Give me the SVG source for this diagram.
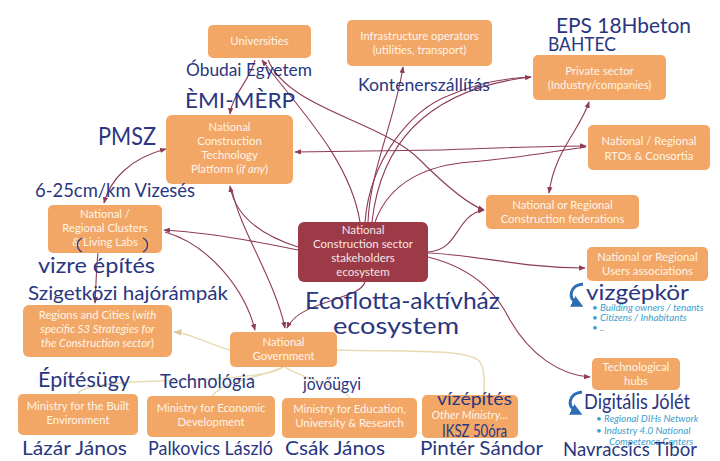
<svg xmlns="http://www.w3.org/2000/svg" width="720" height="461" viewBox="0 0 720 461">
<defs>
<style>
.box{fill:#F2A766;}
.ctr{fill:#9C3B47;}
.t{font-family:Lato,"Open Sans",sans-serif;font-size:11.3px;fill:#FFF4E8;text-anchor:middle;}
.tc{font-family:Lato,"Open Sans",sans-serif;font-size:11.5px;fill:#F7E4E6;text-anchor:middle;}
.it{font-style:italic;}
.c{fill:none;stroke:#8E3B55;stroke-width:1.1;}
.b{fill:none;stroke:#E8DAB2;stroke-width:1.4;}
.hw{font-family:Lato,"Open Sans",sans-serif;font-weight:400;fill:#2A3680;}
.li{font-family:Lato,"Open Sans",sans-serif;font-size:9.8px;font-style:italic;fill:#3AA0CC;}
.blue{fill:none;stroke:#2E6DB4;stroke-width:3;}
</style>
<marker id="a" viewBox="0 0 10 10" refX="9" refY="5" markerWidth="6" markerHeight="6" orient="auto-start-reverse"><path d="M0,1 L10,5 L0,9 z" fill="#8E3B55"/></marker>
<marker id="ab" viewBox="0 0 10 10" refX="9" refY="5" markerWidth="6" markerHeight="6" orient="auto"><path d="M0,1 L10,5 L0,9 z" fill="#E0C89A"/></marker>
<marker id="abl" viewBox="0 0 10 10" refX="5" refY="5" markerWidth="4" markerHeight="4" orient="auto"><path d="M0,0 L10,5 L0,10 z" fill="#2E6DB4"/></marker>
</defs>
<rect width="720" height="461" fill="#FFFFFF"/>

<g id="connectors">
<path class="b" d="M230 350 C210 345 190 333 174 332" marker-end="url(#ab)"/>
<path class="b" d="M283 367 C270 378 200 380 130 382 C100 384 80 388 78 394"/>
<path class="b" d="M283 367 C260 378 225 380 212 396"/>
<path class="b" d="M285 367 C300 378 340 385 350 398"/>
<path class="b" d="M337 350 C400 352 470 348 480 362 C486 372 484 385 484 395"/>
<path class="c" d="M360 222 C350 160 300 110 262 60" marker-end="url(#a)"/>
<path class="c" d="M255 60 C250 80 232 95 230 114" marker-end="url(#a)"/>
<path class="c" d="M268 60 C290 110 380 120 420 160 C450 190 470 205 484 210" marker-end="url(#a)"/>
<path class="c" d="M368 222 C370 170 395 120 403 67" marker-end="url(#a)"/>
<path class="c" d="M372 222 C380 150 420 90 531 77" marker-end="url(#a)"/>
<path class="c" d="M365 222 C370 160 410 110 450 95 C480 82 505 78 531 77"/>
<path class="c" d="M375 222 C390 180 430 165 470 162 C520 158 560 150 586 147"/>
<path class="c" d="M295 152 L440 150 C500 148 540 146 586 146" marker-start="url(#a)" marker-end="url(#a)"/>
<path class="c" d="M589 102 C580 130 555 150 549 193" marker-start="url(#a)" marker-end="url(#a)"/>
<path class="c" d="M428 252 C460 250 455 215 484 210" marker-end="url(#a)"/>
<path class="c" d="M428 253 C480 255 520 268 585 268" marker-end="url(#a)"/>
<path class="c" d="M428 257 C480 270 500 300 510 320 C530 355 560 375 590 377" marker-end="url(#a)"/>
<path class="c" d="M298 250 C250 240 200 232 164 230" marker-end="url(#a)"/>
<path class="c" d="M166 149 C130 158 110 180 104 203" marker-start="url(#a)" marker-end="url(#a)"/>
<path class="c" d="M298 247 C260 235 235 215 230 186" marker-end="url(#a)"/>
<path class="c" d="M165 232 C210 245 245 290 255 330" marker-end="url(#a)"/>
<path class="c" d="M232 190 C240 230 275 280 285 328" marker-end="url(#a)"/>
<path class="c" d="M365 282 C360 300 300 300 287 328" marker-end="url(#a)"/>
<path class="c" d="M98 253 C96 270 96 290 95 303" marker-end="url(#a)"/>
</g>

<g id="universities"><rect class="box" x="208" y="25" width="103" height="33" rx="5"/><text class="t" x="259.5" y="45">Universities</text></g>
<g id="infrastructure"><rect class="box" x="347" y="20" width="145" height="46" rx="5"/><text class="t" x="419.5" y="40">Infrastructure operators</text><text class="t" x="419.5" y="54">(utilities, transport)</text></g>
<g id="private"><rect class="box" x="533" y="55" width="133" height="45" rx="5"/><text class="t" x="599.5" y="75">Private sector</text><text class="t" x="599.5" y="89">(Industry/companies)</text></g>
<g id="rtos"><rect class="box" x="588" y="125" width="122" height="45" rx="5"/><text class="t" x="649" y="145">National / Regional</text><text class="t" x="649" y="160">RTOs &amp; Consortia</text></g>
<g id="platform"><rect class="box" x="166" y="115" width="127" height="69" rx="6"/><text class="t" x="229.5" y="131">National</text><text class="t" x="229.5" y="145">Construction</text><text class="t" x="229.5" y="159">Technology</text><text class="t" x="229.5" y="173">Platform (<tspan class="it">if any</tspan>)</text></g>
<g id="clusters"><rect class="box" x="48" y="205" width="114" height="48" rx="5"/><text class="t" x="105" y="218">National /</text><text class="t" x="105" y="232">Regional Clusters</text><text class="t" x="105" y="246">&amp; Living Labs</text></g>
<g id="center"><rect class="ctr" x="298" y="222" width="130" height="60" rx="6"/><text class="tc" x="363" y="234">National</text><text class="tc" x="363" y="248">Construction sector</text><text class="tc" x="363" y="262">stakeholders</text><text class="tc" x="363" y="276">ecosystem</text></g>
<g id="federations"><rect class="box" x="486" y="195" width="153" height="34" rx="5"/><text class="t" x="562.5" y="209">National or Regional</text><text class="t" x="562.5" y="223">Construction federations</text></g>
<g id="users"><rect class="box" x="587" y="247" width="121" height="34" rx="5"/><text class="t" x="647.5" y="261">National or Regional</text><text class="t" x="647.5" y="275">Users associations</text></g>
<g id="users-list"><text class="li" x="592" y="311">•  Building owners / tenants</text><text class="li" x="592" y="321">•  Citizens / Inhabitants</text><text class="li" x="592" y="331">•  ..</text></g>
<g id="regions"><rect class="box" x="23" y="305" width="149" height="52" rx="6"/><text class="t" x="97.5" y="319">Regions and Cities (<tspan class="it">with</tspan></text><text class="t it" x="97.5" y="333">specific S3 Strategies for</text><text class="t" x="97.5" y="347"><tspan class="it">the Construction sector</tspan>)</text></g>
<g id="government"><rect class="box" x="230" y="332" width="107" height="35" rx="5"/><text class="t" x="283.5" y="346">National</text><text class="t" x="283.5" y="360">Government</text></g>
<g id="min-built"><rect class="box" x="18" y="394" width="120" height="41" rx="5"/><text class="t" x="78" y="410">Ministry for the Built</text><text class="t" x="78" y="424">Environment</text></g>
<g id="min-econ"><rect class="box" x="147" y="396" width="128" height="41" rx="5"/><text class="t" x="211" y="412">Ministry for Economic</text><text class="t" x="211" y="426">Development</text></g>
<g id="min-edu"><rect class="box" x="282" y="398" width="135" height="40" rx="5"/><text class="t" x="349.5" y="413">Ministry for Education,</text><text class="t" x="349.5" y="427">University &amp; Research</text></g>
<g id="min-other"><rect class="box" x="422" y="395" width="96" height="43" rx="5"/><text class="t it" x="470" y="419">Other Ministry…</text></g>
<g id="hubs"><rect class="box" x="592" y="358" width="88" height="32" rx="5"/><text class="t" x="636" y="371">Technological</text><text class="t" x="636" y="385">hubs</text></g>
<g id="hubs-list"><text class="li" x="596" y="422">•  Regional DIHs Network</text><text class="li" x="596" y="434">•  Industry 4.0 National</text><text class="li" x="609" y="445">Competence Centers</text></g>

<g id="handwriting">
<text class="hw" x="186" y="76" font-size="18" textLength="126" lengthAdjust="spacingAndGlyphs">Óbudai Egyetem</text>
<text class="hw" x="185" y="108" font-size="21" textLength="110" lengthAdjust="spacingAndGlyphs">ÈMI-MÈRP</text>
<text class="hw" x="98" y="145" font-size="25" textLength="58" lengthAdjust="spacingAndGlyphs">PMSZ</text>
<text class="hw" x="35" y="197" font-size="19" textLength="160" lengthAdjust="spacingAndGlyphs">6-25cm/km Vizesés</text>
<text class="hw" x="556" y="33" font-size="21" textLength="135" lengthAdjust="spacingAndGlyphs">EPS 18Hbeton</text>
<text class="hw" x="548" y="51" font-size="19" textLength="68" lengthAdjust="spacingAndGlyphs">BAHTEC</text>
<text class="hw" x="358" y="91" font-size="18" textLength="132" lengthAdjust="spacingAndGlyphs">Kontenerszállítás</text>
<text class="hw" x="38" y="273" font-size="21" textLength="117" lengthAdjust="spacingAndGlyphs">vizre építés</text>
<text class="hw" x="28" y="300" font-size="20" textLength="200" lengthAdjust="spacingAndGlyphs">Szigetközi hajórámpák</text>
<text class="hw" x="305" y="309" font-size="23" textLength="195" lengthAdjust="spacingAndGlyphs">Ecoflotta-aktívház</text>
<text class="hw" x="333" y="334" font-size="23" textLength="126" lengthAdjust="spacingAndGlyphs">ecosystem</text>
<text class="hw" x="586" y="300" font-size="21" textLength="103" lengthAdjust="spacingAndGlyphs">vizgépkör</text>
<text class="hw" x="38" y="387" font-size="21" textLength="92" lengthAdjust="spacingAndGlyphs">Építésügy</text>
<text class="hw" x="160" y="388" font-size="20" textLength="95" lengthAdjust="spacingAndGlyphs">Technológia</text>
<text class="hw" x="303" y="390" font-size="18" textLength="58" lengthAdjust="spacingAndGlyphs">jövőügyi</text>
<text class="hw" x="437" y="405" font-size="18" textLength="75" lengthAdjust="spacingAndGlyphs">vízépítés</text>
<text class="hw" x="442" y="437" font-size="18" textLength="65" lengthAdjust="spacingAndGlyphs">IKSZ 50óra</text>
<text class="hw" x="22" y="455" font-size="20" textLength="105" lengthAdjust="spacingAndGlyphs">Lázár János</text>
<text class="hw" x="148" y="455" font-size="20" textLength="125" lengthAdjust="spacingAndGlyphs">Palkovics László</text>
<text class="hw" x="285" y="455" font-size="20" textLength="100" lengthAdjust="spacingAndGlyphs">Csák János</text>
<text class="hw" x="420" y="455" font-size="20" textLength="123" lengthAdjust="spacingAndGlyphs">Pintér Sándor</text>
<text class="hw" x="563" y="456" font-size="19" textLength="134" lengthAdjust="spacingAndGlyphs">Navracsics Tibor</text>
<text class="hw" x="584" y="409" font-size="21" textLength="106" lengthAdjust="spacingAndGlyphs">Digitális Jólét</text>
<path d="M82 238 C76 241 76 249 82 252" fill="none" stroke="#2A3680" stroke-width="1.3"/>
<path d="M143 238 C149 241 149 249 143 252" fill="none" stroke="#2A3680" stroke-width="1.3"/>
<path class="blue" d="M583 284 C571 285 566 298 578 304" marker-end="url(#abl)"/>
<path class="blue" d="M582 392 C570 393 565 406 577 412" marker-end="url(#abl)"/>
</g>
</svg>
